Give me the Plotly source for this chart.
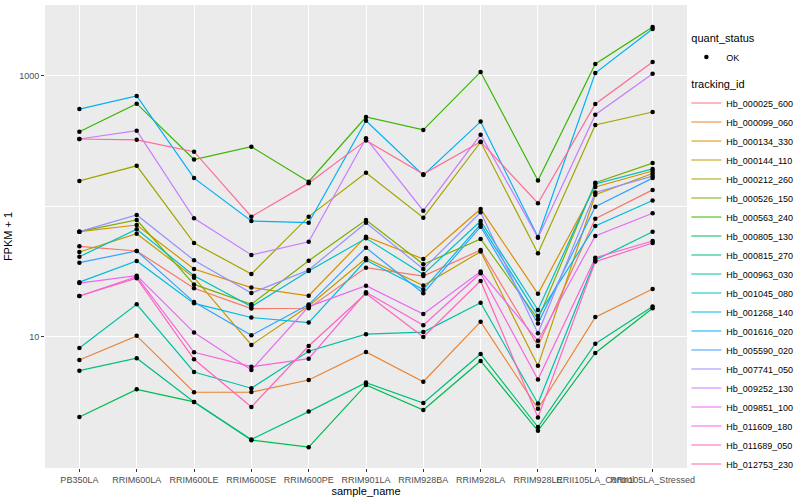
import math
import plotly.graph_objects as go

samples = ["PB350LA", "RRIM600LA", "RRIM600LE", "RRIM600SE", "RRIM600PE",
           "RRIM901LA", "RRIM928BA", "RRIM928LA", "RRIM928LE",
           "RRII105LA_Control", "RRII105LA_Stressed"]

tracking_ids = ["Hb_000025_600", "Hb_000099_060", "Hb_000134_330", "Hb_000144_110",
                "Hb_000212_260", "Hb_000526_150", "Hb_000563_240", "Hb_000805_130",
                "Hb_000815_270", "Hb_000963_030", "Hb_001045_080", "Hb_001268_140",
                "Hb_001616_020", "Hb_005590_020", "Hb_007741_050", "Hb_009252_130",
                "Hb_009851_100", "Hb_011609_180", "Hb_011689_050", "Hb_012753_230"]

# FPKM + 1 values, one list per gene, in the order of `samples`
hb_000025_600 = [49.5, 45.6, 23.6, 16.5, 16.6, 34.0, 29.3, 46.4, 8.53, 80.7, 134]
hb_000099_060 = [6.66, 10.2, 3.77, 3.78, 4.68, 7.67, 4.54, 13.1, 2.82, 14.2, 23.3]
hb_000134_330 = [64.1, 72.1, 33.2, 23.9, 20.7, 58.7, 39.6, 95.7, 21.4, 141, 187]
hb_000144_110 = [44.8, 61.9, 28.5, 8.69, 17.3, 40.1, 24.8, 45.1, 6.03, 123, 179]
hb_000212_260 = [157, 205, 52.5, 30.4, 83.6, 181, 82.0, 312, 43.8, 421, 530]
hb_000526_150 = [64.1, 78.8, 25.3, 17.8, 38.4, 78.8, 36.1, 56.4, 13.7, 152, 215]
hb_000563_240 = [374, 614, 229, 287, 155, 485, 386, 1074, 158, 1236, 2371]
hb_000805_130 = [2.44, 3.97, 3.18, 1.62, 1.43, 4.29, 2.76, 6.55, 1.91, 7.54, 16.6]
hb_000815_270 = [5.52, 6.87, 3.18, 1.64, 2.68, 4.47, 3.12, 7.41, 2.04, 8.89, 17.1]
hb_000963_030 = [8.24, 17.8, 5.39, 4.05, 7.77, 10.5, 10.9, 18.3, 3.09, 38.9, 64.1]
hb_001045_080 = [41.2, 66.9, 29.5, 17.1, 32.0, 57.0, 30.2, 77.4, 16.1, 149, 194]
hb_001268_140 = [26.3, 38.2, 18.1, 14.1, 12.9, 38.7, 23.1, 73.1, 14.5, 70.9, 111]
hb_001616_020 = [558, 703, 165, 77.4, 75.1, 454, 174, 447, 58.3, 1054, 2291]
hb_005590_020 = [37.1, 45.6, 18.5, 10.3, 17.7, 48.3, 21.6, 70.0, 12.7, 99.6, 165]
hb_007741_050 = [64.1, 86.1, 38.7, 21.7, 32.6, 75.1, 33.2, 90.3, 10.7, 128, 171]
hb_009252_130 = [329, 381, 81.2, 42.5, 53.7, 333, 92.9, 355, 57.7, 505, 1040]
hb_009851_100 = [25.9, 29.5, 10.8, 5.58, 17.1, 24.7, 15.0, 31.7, 9.37, 59.4, 88.7]
hb_011609_180 = [20.6, 29.0, 7.63, 5.92, 6.82, 22.0, 12.3, 30.8, 4.72, 40.5, 54.4]
hb_011689_050 = [20.6, 28.2, 6.75, 2.91, 8.53, 21.5, 10.0, 26.9, 2.42, 37.8, 52.5]
hb_012753_230 = [329, 324, 263, 83.6, 151, 321, 177, 314, 106, 610, 1280]

series = [hb_000025_600, hb_000099_060, hb_000134_330, hb_000144_110, hb_000212_260,
          hb_000526_150, hb_000563_240, hb_000805_130, hb_000815_270, hb_000963_030,
          hb_001045_080, hb_001268_140, hb_001616_020, hb_005590_020, hb_007741_050,
          hb_009252_130, hb_009851_100, hb_011609_180, hb_011689_050, hb_012753_230]


def hcl_hex(h, c=100.0, l=65.0):
    """ggplot2 hue_pal colour: polar CIE-Luv -> sRGB (D65)."""
    hr = math.radians(h)
    u, v = c * math.cos(hr), c * math.sin(hr)
    xn, yn, zn = 95.047, 100.0, 108.883
    y = yn * ((l + 16) / 116) ** 3 if l > 8 else yn * l / 903.3
    den = xn + 15 * yn + 3 * zn
    un, vn = 4 * xn / den, 9 * yn / den
    up, vp = u / (13 * l) + un, v / (13 * l) + vn
    x = y * 9 * up / (4 * vp)
    z = y * (12 - 3 * up - 20 * vp) / (4 * vp)
    x, y, z = x / 100, y / 100, z / 100
    r = 3.2404542 * x - 1.5371385 * y - 0.4985314 * z
    g = -0.9692660 * x + 1.8760108 * y + 0.0415560 * z
    b = 0.0556434 * x - 0.2040259 * y + 1.0572252 * z

    def gam(t):
        t = 12.92 * t if t <= 0.0031308 else 1.055 * t ** (1 / 2.4) - 0.055
        return int(round(min(max(t, 0), 1) * 255))

    return "#%02X%02X%02X" % (gam(r), gam(g), gam(b))


n = len(tracking_ids)
colors = [hcl_hex(15 + 360 * i / n) for i in range(n)]

fig = go.Figure()

for i, (tid, vals) in enumerate(zip(tracking_ids, series)):
    fig.add_trace(go.Scatter(
        x=samples, y=vals, mode="lines", name=tid,
        line=dict(color=colors[i], width=1.2),
        legendgroup="tracking_id",
        legendgrouptitle=dict(text="tracking_id", font=dict(size=11, color="black")),
        legendrank=100 + i,
        hoverinfo="skip",
    ))

all_x, all_y = [], []
for vals in series:
    all_x.extend(samples)
    all_y.extend(vals)

fig.add_trace(go.Scatter(
    x=all_x, y=all_y, mode="markers", name="OK",
    marker=dict(color="black", size=4.5, symbol="circle"),
    legendgroup="quant_status",
    legendgrouptitle=dict(text="quant_status", font=dict(size=11, color="black")),
    legendrank=1,
))

fig.update_layout(
    width=800, height=500,
    margin=dict(l=45, r=113, t=5, b=32, autoexpand=False),
    paper_bgcolor="white", plot_bgcolor="#EBEBEB",
    font=dict(family="Liberation Sans, Arial, sans-serif", size=9, color="#4D4D4D"),
    xaxis=dict(
        type="category", categoryorder="array", categoryarray=samples,
        range=[-0.6, 10.6], showgrid=True, gridcolor="white", gridwidth=1.1,
        ticks="outside", ticklen=3, tickcolor="#333333", tickangle=0,
        zeroline=False, showline=False, automargin=False,
        tickfont=dict(size=9, color="#4D4D4D"),
        title=dict(text="sample_name", font=dict(size=11, color="black"), standoff=3),
    ),
    yaxis=dict(
        type="log", range=[-0.004, 3.544],
        tickmode="array", tickvals=[10, 1000], ticktext=["10", "1000"],
        showgrid=True, gridcolor="white", gridwidth=1.1,
        minor=dict(tickmode="array", tickvals=[1, 100, 10000], showgrid=True,
                   gridcolor="white", gridwidth=0.5, ticks=""),
        ticks="outside", ticklen=3, tickcolor="#333333",
        zeroline=False, showline=False, automargin=False,
        tickfont=dict(size=9, color="#4D4D4D"),
        title=dict(text="FPKM + 1", font=dict(size=11, color="black"), standoff=4),
    ),
    legend=dict(
        x=0.999, y=0.96, xanchor="left", yanchor="top",
        font=dict(size=9, color="black"), tracegroupgap=8,
        itemwidth=30, bgcolor="rgba(0,0,0,0)", traceorder="grouped",
    ),
    showlegend=True,
)

fig.write_html("out.html", config={"displayModeBar": False},
               post_script="document.body.style.margin='0';")
